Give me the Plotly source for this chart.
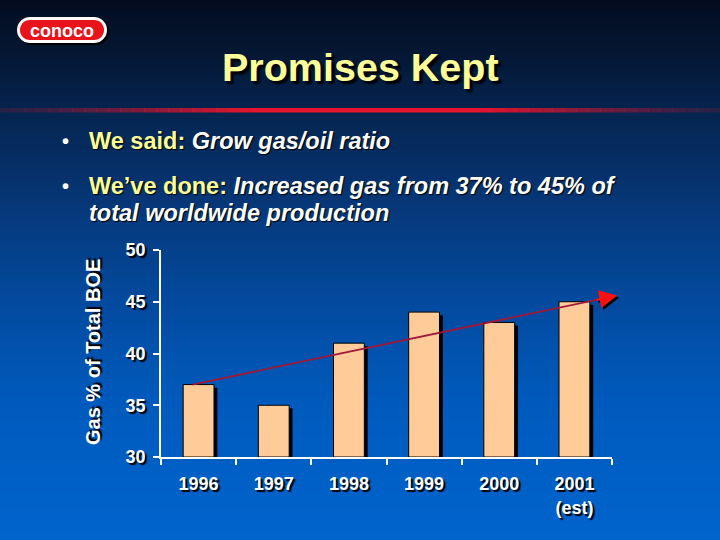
import plotly.graph_objects as go
import math

# ---------------- data ----------------
years = ["1996", "1997", "1998", "1999", "2000", "2001<br>(est)"]
gas_pct = [37, 35, 41, 44, 43, 45]
trend_x = [-0.08, 5.57]          # category index positions of trend arrow
trend_y = [37.0, 45.6]
y_ticks = [30, 35, 40, 45, 50]

# ---------------- layout geometry ----------------
W, H = 720, 540
L, R, T, B = 161, 612, 250, 457


def px(x):
    return (x - L) / (R - L)


def py(y):
    return (B - y) / (B - T)


shapes = []

# background vertical gradient
stops = [(0, (3, 12, 30)), (60, (4, 24, 54)), (110, (5, 36, 78)), (200, (6, 54, 118)),
         (300, (3, 74, 158)), (400, (0, 90, 188)), (540, (0, 100, 205))]


def bg_color(y):
    for (y0, c0), (y1, c1) in zip(stops[:-1], stops[1:]):
        if y0 <= y <= y1:
            t = (y - y0) / (y1 - y0)
            return "rgb(%d,%d,%d)" % tuple(round(a + (b - a) * t) for a, b in zip(c0, c1))
    return "rgb(0,100,205)"


step = 6
for y in range(0, H, step):
    shapes.append(dict(type="rect", xref="paper", yref="paper", layer="below",
                       x0=px(-5), x1=px(W + 5), y0=py(y + step + 0.5), y1=py(y),
                       fillcolor=bg_color(y + step / 2), line_width=0))

# red stripe under title (fades toward the edges)
seg = 12
for x in range(0, W, seg):
    xc = x + seg / 2
    if xc < 250:
        a = max(0.0, xc / 250)
    elif xc > 480:
        a = max(0.0, (W - xc) / 240)
    else:
        a = 1.0
    a = a ** 1.3
    shapes.append(dict(type="rect", xref="paper", yref="paper", layer="below",
                       x0=px(x), x1=px(x + seg + 0.5), y0=py(112.5), y1=py(108),
                       fillcolor="rgba(230,20,45,%.3f)" % (0.15 + 0.85 * a), line_width=0))


def pill(x0, y0, x1, y1):
    r = (y1 - y0) / 2
    pts = []
    for i in range(0, 19):
        ang = -math.pi / 2 + math.pi * i / 18
        pts.append((x1 - r + r * math.cos(ang), (y0 + y1) / 2 + r * math.sin(ang)))
    for i in range(0, 19):
        ang = math.pi / 2 + math.pi * i / 18
        pts.append((x0 + r + r * math.cos(ang), (y0 + y1) / 2 + r * math.sin(ang)))
    return "M " + " L ".join("%.5f,%.5f" % (px(a), py(b)) for a, b in pts) + " Z"


shapes.append(dict(type="path", xref="paper", yref="paper", layer="below",
                   path=pill(19, 19, 109, 45), fillcolor="black", line_width=0))
shapes.append(dict(type="path", xref="paper", yref="paper", layer="below",
                   path=pill(17, 17, 107, 43), fillcolor="white", line_width=0))
shapes.append(dict(type="path", xref="paper", yref="paper", layer="below",
                   path=pill(20, 20, 104, 40), fillcolor="#e8131b", line_width=0))

# trend line
shapes.append(dict(type="line", xref="x", yref="y", layer="above",
                   x0=trend_x[0], y0=trend_y[0], x1=trend_x[1], y1=trend_y[1],
                   line=dict(color="#a01838", width=1.8)))

fig = go.Figure()

bw = 0.41
# shadows (slightly offset to the right and down)
fig.add_trace(go.Bar(x=years, y=[v - 30 - 0.3 for v in gas_pct], base=30,
                     width=bw, offset=-bw / 2 + 0.045,
                     marker=dict(color="black", line_width=0), hoverinfo="skip"))
fig.add_trace(go.Bar(x=years, y=[v - 30 for v in gas_pct], base=30,
                     width=bw, offset=-bw / 2,
                     marker=dict(color="#FFCC99", line=dict(color="black", width=1))))

shadow = "2px 2px 1px black"
FONT = "Liberation Sans, Arial"
bsize = 23.5
annotations = [
    dict(text="Promises Kept", x=px(360), y=py(67), xref="paper", yref="paper",
         showarrow=False, xanchor="center", yanchor="middle",
         font=dict(family=FONT, size=39.5, color="#FFFF99",
                   weight="bold", shadow="3px 3px 2px black")),
    dict(text="conoco", x=px(62), y=py(30.5), xref="paper", yref="paper",
         showarrow=False, xanchor="center", yanchor="middle",
         font=dict(family=FONT, size=18, color="white", weight="bold")),
    dict(text="•", x=px(60), y=py(141), xref="paper", yref="paper", showarrow=False,
         xanchor="left", yanchor="middle",
         font=dict(family=FONT, size=20, color="white", weight="bold")),
    dict(text="<span style='color:#FFFF99'>We said: </span><i>Grow gas/oil ratio</i>",
         x=px(87), y=py(141), xref="paper", yref="paper", showarrow=False,
         xanchor="left", yanchor="middle",
         font=dict(family=FONT, size=bsize, color="white", weight="bold",
                   shadow="1px 1px 1px black")),
    dict(text="•", x=px(60), y=py(186), xref="paper", yref="paper", showarrow=False,
         xanchor="left", yanchor="middle",
         font=dict(family=FONT, size=20, color="white", weight="bold")),
    dict(text="<span style='color:#FFFF99'>We’ve done: </span><i>Increased gas from 37% to 45% of</i>",
         x=px(87), y=py(186), xref="paper", yref="paper", showarrow=False,
         xanchor="left", yanchor="middle",
         font=dict(family=FONT, size=bsize, color="white", weight="bold",
                   shadow="1px 1px 1px black")),
    dict(text="<i>total worldwide production</i>",
         x=px(87), y=py(213), xref="paper", yref="paper", showarrow=False,
         xanchor="left", yanchor="middle",
         font=dict(family=FONT, size=bsize, color="white", weight="bold",
                   shadow="1px 1px 1px black")),
    dict(text="Gas % of Total BOE", x=px(93), y=py(352), xref="paper", yref="paper",
         showarrow=False, textangle=-90, xanchor="center", yanchor="middle",
         font=dict(family=FONT, size=20, color="white", weight="bold",
                   shadow=shadow)),
    # arrowhead shadow and arrowhead
    dict(x=trend_x[1], y=trend_y[1], ax=trend_x[1] - 0.3, ay=trend_y[1] - 0.45,
         xref="x", yref="y", axref="x", ayref="y", text="", showarrow=True,
         arrowhead=2, arrowsize=1.8, arrowwidth=2, arrowcolor="black",
         xshift=2, yshift=-2),
    dict(x=trend_x[1], y=trend_y[1], ax=trend_x[1] - 0.3, ay=trend_y[1] - 0.45,
         xref="x", yref="y", axref="x", ayref="y", text="", showarrow=True,
         arrowhead=2, arrowsize=1.8, arrowwidth=2, arrowcolor="#ff1010"),
]

tickfont = dict(family=FONT, size=18, color="white", weight="bold", shadow=shadow)

fig.update_layout(
    width=W, height=H, margin=dict(l=L, r=W - R, t=T, b=H - B),
    paper_bgcolor="rgb(5,50,110)", plot_bgcolor="rgba(0,0,0,0)",
    barmode="overlay", showlegend=False,
    shapes=shapes, annotations=annotations,
    xaxis=dict(type="category", range=[-0.5, 5.5], showline=True, linecolor="white",
               linewidth=1.5, ticks="outside", tickson="boundaries", ticklen=6,
               tickcolor="white", tickwidth=1.5, tickfont=tickfont, showgrid=False,
               ticklabelstandoff=10, fixedrange=True),
    yaxis=dict(range=[30, 50], tickvals=y_ticks, showline=True, linecolor="white",
               linewidth=1.5, ticks="outside", ticklen=6, tickcolor="white",
               tickwidth=1.5, tickfont=tickfont, showgrid=False, zeroline=False,
               ticklabelstandoff=4, fixedrange=True),
)

fig.write_html("out.html")
